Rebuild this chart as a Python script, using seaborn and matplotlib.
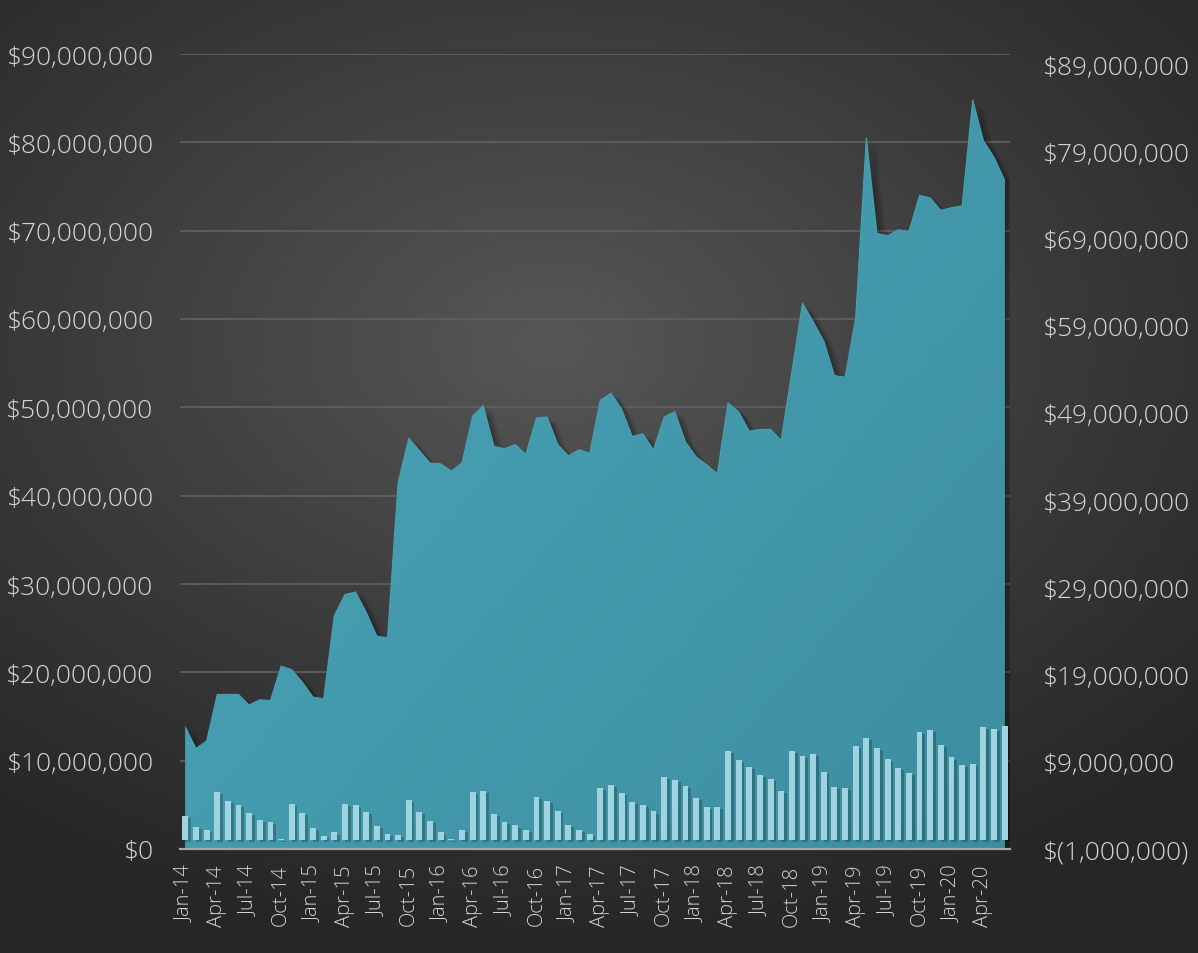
import numpy as np
import pandas as pd
import matplotlib
matplotlib.use("Agg")
import matplotlib.pyplot as plt
import matplotlib.patheffects as pe
from matplotlib.ticker import FuncFormatter, FixedLocator
import seaborn as sns

# ---------------- data ----------------
months = pd.date_range("2014-01-01", periods=78, freq="MS").strftime("%b-%y").tolist()

area_millions = [
    13.8, 11.4, 12.2, 17.5, 17.5, 17.5, 16.3, 16.9, 16.8, 20.7, 20.3, 18.9,
    17.2, 17.0, 26.4, 28.8, 29.1, 26.8, 24.1, 23.9, 41.5, 46.5, 45.1, 43.7,
    43.6, 42.8, 43.7, 49.0, 50.2, 45.6, 45.3, 45.8, 44.7, 48.8, 48.9, 45.8,
    44.5, 45.2, 44.8, 50.8, 51.6, 49.8, 46.7, 47.0, 45.2, 48.9, 49.5, 46.1,
    44.4, 43.5, 42.5, 50.5, 49.5, 47.3, 47.5, 47.5, 46.3, 54.0, 61.8, 59.7,
    57.5, 53.6, 53.4, 60.1, 80.5, 69.7, 69.4, 70.1, 69.9, 74.0, 73.7, 72.3,
    72.6, 72.8, 84.8, 80.2, 78.3, 75.7,
]

bar_millions = [
    2.8, 1.5, 1.15, 5.5, 4.5, 4.1, 3.1, 2.3, 2.1, 0.2, 4.2, 3.1,
    1.4, 0.45, 0.9, 4.2, 4.1, 3.2, 1.6, 0.7, 0.6, 4.6, 3.2, 2.2,
    0.9, 0.15, 1.15, 5.5, 5.7, 3.0, 2.1, 1.7, 1.15, 5.0, 4.5, 3.4,
    1.8, 1.15, 0.7, 6.0, 6.3, 5.4, 4.4, 4.1, 3.3, 7.3, 6.9, 6.2,
    4.8, 3.8, 3.8, 10.2, 9.2, 8.4, 7.5, 7.0, 5.7, 10.2, 9.7, 9.9,
    7.8, 6.1, 6.0, 10.8, 11.7, 10.6, 9.3, 8.3, 7.7, 12.4, 12.6, 10.9,
    9.5, 8.6, 8.7, 13.0, 12.8, 13.1,
]

left_ticks = [0, 10e6, 20e6, 30e6, 40e6, 50e6, 60e6, 70e6, 80e6, 90e6]
right_ticks = [-1e6, 9e6, 19e6, 29e6, 39e6, 49e6, 59e6, 69e6, 79e6, 89e6]

df = pd.DataFrame({
    "month": months,
    "pos": np.arange(len(months)),
    "area": np.array(area_millions) * 1e6,
    "bars": np.array(bar_millions) * 1e6,
})

# ---------------- style ----------------
sns.set_style("dark")
plt.rcParams["font.family"] = ["Open Sans", "DejaVu Sans"]
TEXT = "#d4d4d4"

W, H = 1198, 954
fig = plt.figure(figsize=(W / 100, H / 100), dpi=100)
fig.patch.set_facecolor("#2c2c2c")

# radial background
bg = fig.add_axes([0, 0, 1, 1], zorder=-10)
yy, xx = np.mgrid[0:1:300j, 0:1:380j]
r = np.sqrt(((xx - 0.46) / 1.0) ** 2 + ((yy - 0.36) / 0.85) ** 2)
val = np.clip(1 - r / 0.76, 0, 1)
c0 = np.array([0x26, 0x26, 0x26]) / 255
c1 = np.array([0x57, 0x57, 0x57]) / 255
img = c0 + (c1 - c0) * val[..., None] ** 1.1
bg.imshow(img, extent=[0, 1, 0, 1], aspect="auto", origin="upper")
bg.set_axis_off()

ax = fig.add_axes([180 / W, (H - 850) / H, 830 / W, 795 / H])
ax.patch.set_alpha(0)
ax2 = ax.twinx()
ax2.patch.set_alpha(0)

# ---------------- area ----------------
poly = ax.fill_between(df["pos"], df["area"], 0, color="#469fb2", lw=0, zorder=2)
shadow = [pe.SimplePatchShadow(offset=(d, -d * 0.6), shadow_rgbFace="black", alpha=0.05)
          for d in (1, 2, 3, 4, 5, 6, 7)]
poly.set_path_effects(shadow + [pe.Normal()])
sns.lineplot(data=df, x="pos", y="area", ax=ax, color="#469fb2", lw=0.8, zorder=2.2)

gy, gx = np.mgrid[0:1:200j, 0:1:200j]
t = np.clip(0.55 * gx + 0.45 * gy, 0, 1)
ca = np.array([0x4b, 0xa7, 0xba]) / 255
cb = np.array([0x3c, 0x8e, 0x9f]) / 255
grad = ca + (cb - ca) * t[..., None]
im = ax.imshow(grad, extent=[-0.5, 77.5, 0, 90e6], aspect="auto", origin="upper", zorder=2.1)
im.set_clip_path(poly.get_paths()[0], transform=ax.transData)

ax.set_xlim(-0.5, 77.5)
ax.set_ylim(0, 90e6)

# ---------------- bars ----------------
sns.barplot(data=df, x="pos", y="bars", ax=ax2, color="#9fd3df", width=0.55,
            saturation=1, native_scale=True, zorder=3)
for p in ax2.patches:
    p.set_path_effects([pe.SimplePatchShadow(offset=(2, -1.5), shadow_rgbFace="black", alpha=0.22),
                        pe.Normal()])
    p.set_linewidth(0)
ax2.set_ylim(-1e6, 90.15e6)

# ---------------- axes / ticks ----------------
ax.set_xlim(-0.5, 77.5)
ax.xaxis.set_major_locator(FixedLocator(list(range(0, 78, 3))))
ax.set_xticklabels(months[::3])
ax.xaxis.set_minor_locator(FixedLocator(list(np.arange(-0.5, 78, 3))))
ax.tick_params(axis="x", which="major", length=0, pad=11, labelrotation=90,
               labelsize=14.5, labelcolor=TEXT)
ax.tick_params(axis="x", which="minor", length=6, width=1.6, color="#a8a8a8", direction="out")

ax.set_yticks(left_ticks)
ax.yaxis.set_major_formatter(FuncFormatter(lambda v, _: f"${v:,.0f}"))
ax.tick_params(axis="y", length=0, pad=19, labelsize=19, labelcolor=TEXT)

ax2.set_yticks(right_ticks)
ax2.yaxis.set_major_formatter(
    FuncFormatter(lambda v, _: f"$({abs(v):,.0f})" if v < 0 else f"${v:,.0f}"))
ax2.tick_params(axis="y", length=0, pad=24, labelsize=19, labelcolor=TEXT)
for lab in ax.get_yticklabels() + ax2.get_yticklabels():
    lab.set_fontweight("light")
for lab in ax.get_xticklabels():
    lab.set_fontweight("light")

ax.grid(axis="y", color="#5f5f5f", lw=1.3)
ax.grid(axis="x", visible=False)
ax2.grid(False)
ax.set_axisbelow(True)

for s in ["top", "left", "right"]:
    ax.spines[s].set_visible(False)
    ax2.spines[s].set_visible(False)
ax2.spines["bottom"].set_visible(False)
ax.spines["bottom"].set_color("#a8a8a8")
ax.spines["bottom"].set_linewidth(1.6)
ax.spines["bottom"].set_zorder(5)

ax.set_xlabel("")
ax.set_ylabel("")
ax2.set_xlabel("")
ax2.set_ylabel("")
legend = ax.get_legend()
if legend:
    legend.remove()

fig.savefig("out.png", dpi=100, facecolor=fig.get_facecolor())
